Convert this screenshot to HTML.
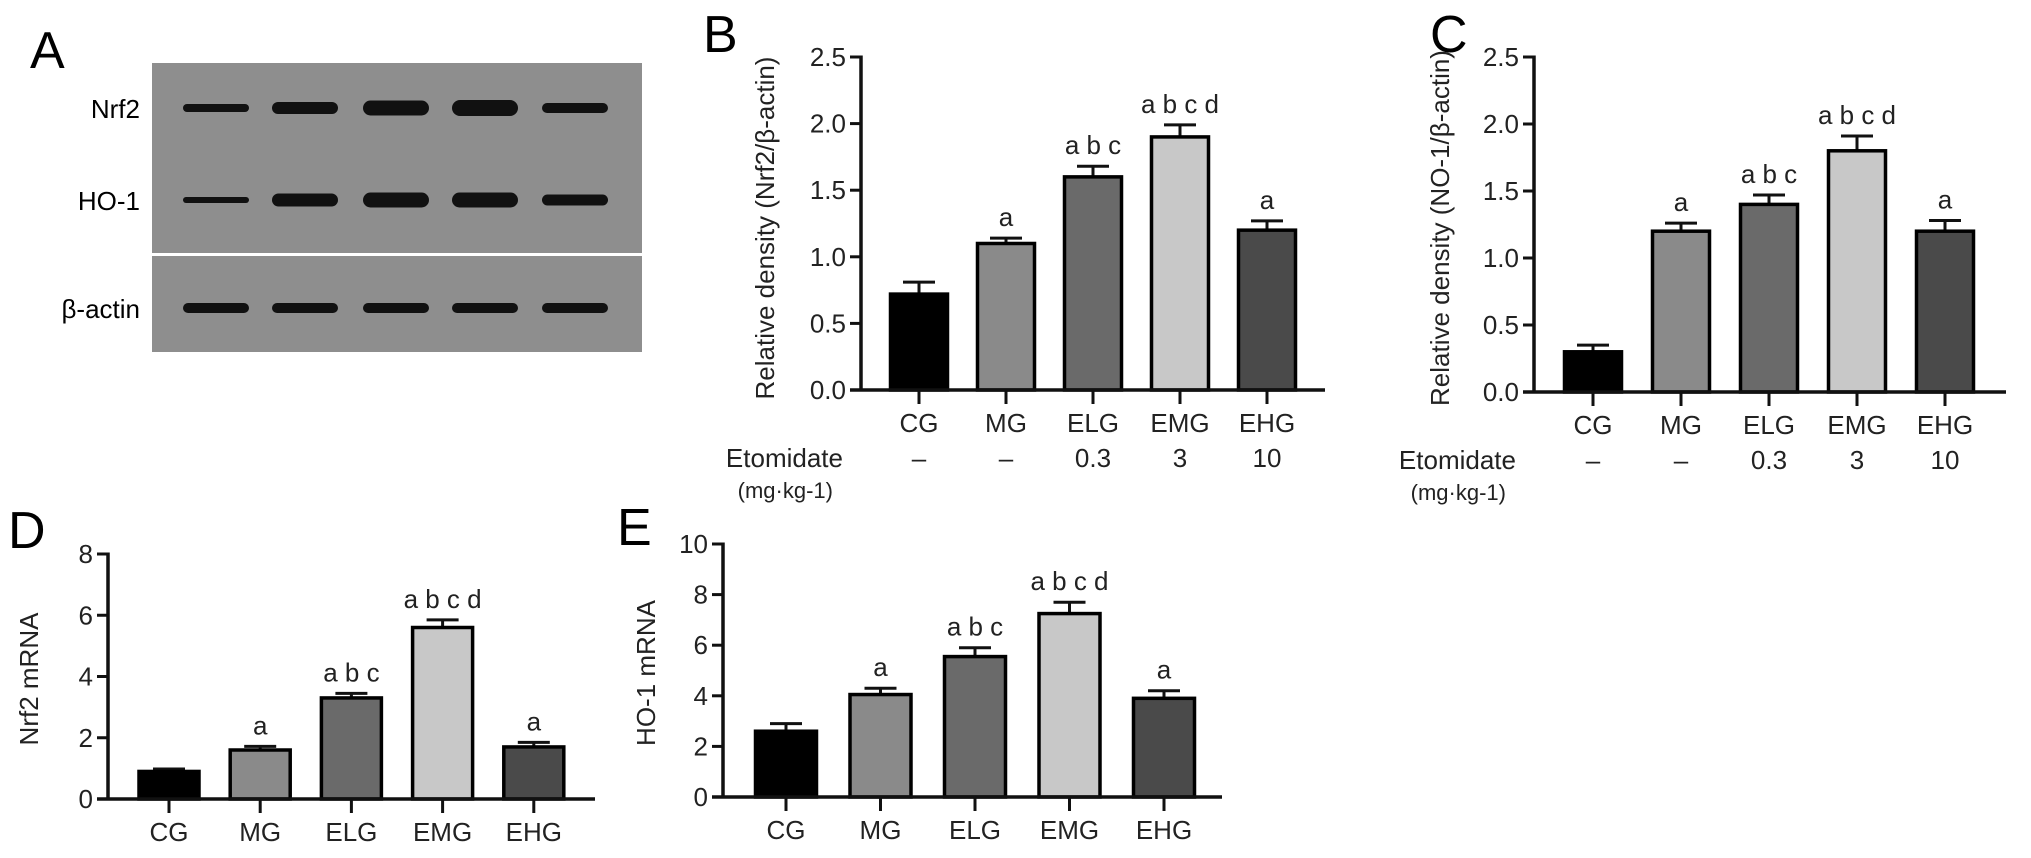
<!DOCTYPE html>
<html><head><meta charset="utf-8"><style>
body{margin:0;background:#fff;}
svg{display:block;font-family:"Liberation Sans",Arial,sans-serif;}
</style></head><body>
<svg id="fig" width="2031" height="858" viewBox="0 0 2031 858">
<g>
<text x="30" y="68" font-size="52">A</text>
<rect x="152" y="63" width="490" height="190" fill="#8e8e8e"/>
<rect x="152" y="256" width="490" height="96" fill="#8e8e8e"/>
<text x="140" y="118" font-size="26" text-anchor="end">Nrf2</text>
<text x="140" y="210" font-size="26" text-anchor="end">HO-1</text>
<text x="140" y="318" font-size="26" text-anchor="end">β-actin</text>
<g id="bands"></g>
</g>
<g id="panels"></g>
</svg>
<script>
const categories = ["CG","MG","ELG","EMG","EHG"];
const fills = ["#000000","#8a8a8a","#6a6a6a","#c8c8c8","#4a4a4a"];
const bValues = [0.72,1.1,1.6,1.9,1.2];
const bErrors = [0.09,0.04,0.08,0.09,0.07];
const cValues = [0.3,1.2,1.4,1.8,1.2];
const cErrors = [0.05,0.06,0.07,0.11,0.08];
const dValues = [0.9,1.6,3.3,5.6,1.7];
const dErrors = [0.08,0.12,0.15,0.25,0.15];
const eValues = [2.6,4.05,5.55,7.25,3.9];
const eErrors = [0.3,0.25,0.35,0.45,0.3];
const letters = ["","a","a b c","a b c d","a"];
const densityTicks = ["0.0","0.5","1.0","1.5","2.0","2.5"];
const dTicks = ["0","2","4","6","8"];
const eTicks = ["0","2","4","6","8","10"];
const doses = ["–","–","0.3","3","10"];
const nrf2Band = [8,12,15,16,10];
const ho1Band = [6,13,15,15,11];
const actinBand = [10,10,10,10,10];

const NS = "http://www.w3.org/2000/svg";
function mk(tag, attrs, parent, txt){
  const e = document.createElementNS(NS, tag);
  for (const k in attrs) e.setAttribute(k, attrs[k]);
  if (txt !== undefined) e.textContent = txt;
  parent.appendChild(e); return e;
}

const bandsG = document.getElementById('bands');
const laneX = [216,305,396,485,575];
[[nrf2Band,108,'nrf2'],[ho1Band,200,'ho1'],[actinBand,308,'actin']].forEach(([arr,cy,nm])=>{
  arr.forEach((h,i)=>{
    const el = mk('rect',{x:laneX[i]-33,y:cy-h/2,width:66,height:h,rx:h/2,fill:'#111'},bandsG);
    
    
  });
});

function panel(cfg){
  const g = mk('g',{},document.getElementById('panels'));
  
  
  const y = v => cfg.y0 - v / cfg.max * (cfg.y0 - cfg.yTop);
  const x = i => cfg.x0 + i * cfg.step;
  const lab = mk('text',{x:cfg.lx,y:cfg.ly,'font-size':52},g,cfg.id.toUpperCase());
  
  
  cfg.ticks.forEach((t,i)=>{
    const v = cfg.max * i/(cfg.ticks.length-1);
    const ty = y(v);
    const tl = mk('line',{x1:cfg.ax-11,x2:cfg.ax,y1:ty,y2:ty,stroke:'#111','stroke-width':3},g);
    
    
    const tt = mk('text',{x:cfg.ax-15,y:ty+9,'font-size':26,'text-anchor':'end',fill:'#222'},g,t);
    
    
  });
  const ttl = mk('text',{x:cfg.tx,y:cfg.ty,'font-size':26,'text-anchor':'middle',fill:'#222',transform:`rotate(-90 ${cfg.tx} ${cfg.ty})`},g,cfg.title);
  
  
  cfg.values.forEach((v,i)=>{
    const cx = x(i), top = y(v), bw = cfg.bw;
    const eTop = y(v + cfg.errors[i]);
    const eb = mk('line',{x1:cx,x2:cx,y1:top,y2:eTop,stroke:'#111','stroke-width':3},g);
    
    
    const ec = mk('line',{x1:cx-16,x2:cx+16,y1:eTop,y2:eTop,stroke:'#111','stroke-width':3},g);
    
    
    const r = mk('rect',{x:cx-bw/2,y:top,width:bw,height:cfg.y0-top,fill:fills[i],stroke:'#000','stroke-width':3.5},g);
    
    
    if (letters[i]) {
      const lt = mk('text',{x:cx,y:eTop-12,'font-size':26,'text-anchor':'middle',fill:'#222'},g,letters[i]);
      
      
    }
    const xt = mk('line',{x1:cx,x2:cx,y1:cfg.y0,y2:cfg.y0+14,stroke:'#111','stroke-width':3},g);
    
    
    const xl = mk('text',{x:cx,y:cfg.y0+42,'font-size':26,'text-anchor':'middle',fill:'#222'},g,categories[i]);
    
    
    if (cfg.dose) {
      const dl = mk('text',{x:cx,y:cfg.y0+77,'font-size':26,'text-anchor':'middle',fill:'#222'},g,doses[i]);
      
      
    }
  });
  const ya = mk('line',{x1:cfg.ax,x2:cfg.ax,y1:cfg.yTop-1.5,y2:cfg.y0+1.5,stroke:'#111','stroke-width':3.5},g);
  
  
  const xa = mk('line',{x1:cfg.ax-11,x2:cfg.xEnd,y1:cfg.y0,y2:cfg.y0,stroke:'#111','stroke-width':3.5},g);
  
  
  if (cfg.dose) {
    const et = mk('text',{x:cfg.ax-18,y:cfg.y0+77,'font-size':26,'text-anchor':'end',fill:'#222'},g,'Etomidate');
    
    
    const un = mk('text',{x:cfg.ax-28,y:cfg.y0+108,'font-size':22,'text-anchor':'end',fill:'#222'},g,'(mg·kg-1)');
    
    
  }
}

panel({id:'b',values:bValues,errors:bErrors,ticks:densityTicks,max:2.5,ax:861,y0:390,yTop:57,x0:919,step:87,bw:57,xEnd:1325,
  lx:703,ly:52,tx:774,ty:228,title:'Relative density (Nrf2/β-actin)',dose:true});
panel({id:'c',values:cValues,errors:cErrors,ticks:densityTicks,max:2.5,ax:1534,y0:392,yTop:57,x0:1593,step:88,bw:57,xEnd:2006,
  lx:1430,ly:52,tx:1449,ty:228,title:'Relative density (NO-1/β-actin)',dose:true});
panel({id:'d',values:dValues,errors:dErrors,ticks:dTicks,max:8,ax:108,y0:799,yTop:554,x0:169,step:91.2,bw:60,xEnd:595,
  lx:8,ly:548,tx:38,ty:679,title:'Nrf2 mRNA',dose:false});
panel({id:'e',values:eValues,errors:eErrors,ticks:eTicks,max:10,ax:723,y0:797,yTop:544,x0:786,step:94.5,bw:61,xEnd:1222,
  lx:617,ly:545,tx:655,ty:673,title:'HO-1 mRNA',dose:false});
</script>
</body></html>
